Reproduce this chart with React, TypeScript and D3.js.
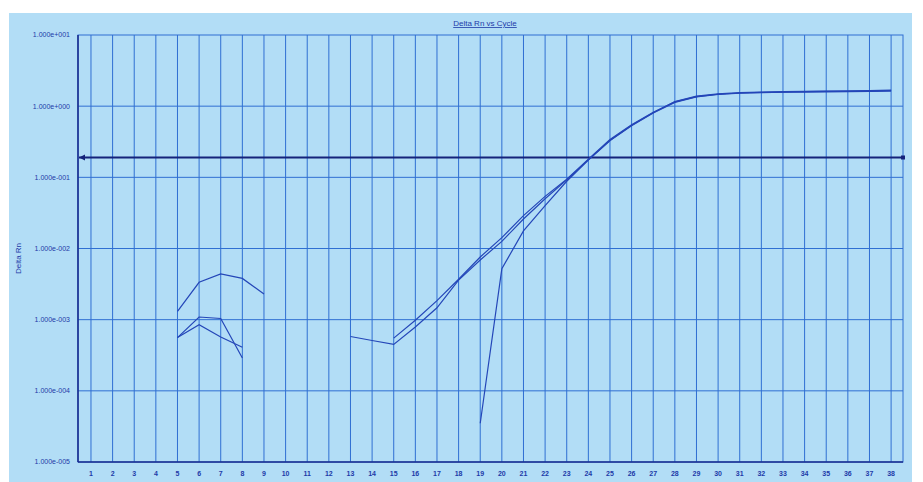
import React from 'react';
import * as d3 from 'd3';

// cycle numbers and the three wells' Delta Rn (null = not plotted, <= 0 on log scale)
const cycles = [1, 2, 3, 4, 5, 6, 7, 8, 9, 10, 11, 12, 13, 14, 15, 16, 17, 18, 19, 20,
  21, 22, 23, 24, 25, 26, 27, 28, 29, 30, 31, 32, 33, 34, 35, 36, 37, 38];

const wellA = [null, null, null, null, 1.31e-3, 3.35e-3, 4.4e-3, 3.8e-3, 2.3e-3, null,
  null, null, null, null, 5.5e-4, 9.8e-4, 1.85e-3, 3.7e-3, 7.6e-3, 0.0142,
  0.029, 0.054, 0.094, 0.18, 0.34, 0.55, 0.82, 1.15, 1.36, 1.47,
  1.53, 1.56, 1.58, 1.6, 1.61, 1.62, 1.63, 1.66];

const wellB = [null, null, null, null, 5.6e-4, 1.09e-3, 1.04e-3, 2.9e-4, null, null,
  null, null, 5.8e-4, 5.1e-4, 4.5e-4, 7.9e-4, 1.47e-3, 3.6e-3, 6.9e-3, 0.0126,
  0.026, 0.05, 0.092, 0.176, 0.33, 0.53, 0.8, 1.13, 1.35, 1.46,
  1.52, 1.55, 1.57, 1.58, 1.59, 1.6, 1.61, 1.62];

const wellC = [null, null, null, null, 5.6e-4, 8.5e-4, 5.7e-4, 4.1e-4, null, null,
  null, null, null, null, null, null, null, null, 3.5e-5, 5.2e-3,
  0.0177, 0.04, 0.088, 0.175, 0.33, 0.54, 0.81, 1.16, 1.38, 1.49,
  1.55, 1.58, 1.6, 1.62, 1.63, 1.64, 1.65, 1.68];

const yTicks = [10, 1, 0.1, 0.01, 0.001, 0.0001, 0.00001];
const yTickLabels = ['1.000e+001', '1.000e+000', '1.000e-001', '1.000e-002', '1.000e-003', '1.000e-004', '1.000e-005'];
const threshold = 0.19;

const W = 923;
const H = 482;
const left = 78, right = 903, top = 35, bottom = 462;

const App = () => {
  React.useEffect(() => {
    document.body.style.margin = '0';
  }, []);

  const x = d3.scaleLinear().domain([0.4, 38.55]).range([left, right]);
  const y = d3.scaleLog().domain([1e-5, 10]).range([bottom, top]);

  const line = d3.line<number | null>()
    .defined(d => d != null)
    .x((d, i) => x(cycles[i]))
    .y(d => y(d as number));

  const font = 'Arial, "Liberation Sans", sans-serif';
  const gridCol = '#2f6fd2';
  const axisCol = '#1a2d8f';
  const curveCol = '#2446b8';
  const textCol = '#1d3aa8';

  return (
    <svg width={W} height={H} style={{ display: 'block' }}>
      <rect x={0} y={0} width={W} height={H} fill="#ffffff" />
      <rect x={9} y={13} width={903} height={H - 13} fill="#b2ddf6" />

      <text x={485} y={26} textAnchor="middle" fontFamily={font} fontSize={8}
        fill={textCol} textDecoration="underline">Delta Rn vs Cycle</text>

      {/* vertical grid, one per cycle */}
      {cycles.map(c => (
        <line key={'v' + c} x1={x(c)} x2={x(c)} y1={top} y2={bottom} stroke={gridCol} strokeWidth={1} />
      ))}
      {/* horizontal grid per decade */}
      {yTicks.slice(1, -1).map(t => (
        <line key={'h' + t} x1={left} x2={right} y1={y(t)} y2={y(t)} stroke={gridCol} strokeWidth={1} />
      ))}

      <rect x={left} y={top} width={right - left} height={bottom - top} fill="none" stroke={gridCol} strokeWidth={1} />
      <line x1={left} x2={left} y1={top} y2={bottom} stroke={axisCol} strokeWidth={1.6} />
      <line x1={left} x2={right} y1={bottom} y2={bottom} stroke={axisCol} strokeWidth={1.6} />

      {yTicks.map((t, i) => (
        <text key={'yl' + t} x={70} y={y(t)} dy="0.35em" textAnchor="end" fontFamily={font}
          fontSize={7} fill={textCol}>{yTickLabels[i]}</text>
      ))}
      {cycles.map(c => (
        <text key={'xl' + c} x={x(c)} y={476} textAnchor="middle" fontFamily={font}
          fontSize={7} fontWeight="bold" fill={textCol}>{c}</text>
      ))}

      <text transform={`translate(21,${(top + bottom) / 2 + 10}) rotate(-90)`} textAnchor="middle"
        fontFamily={font} fontSize={8} fill={textCol}>Delta Rn</text>

      {/* threshold */}
      <line x1={left + 1} x2={right} y1={y(threshold)} y2={y(threshold)} stroke="#15237a" strokeWidth={1.8} />
      <path d={`M${left + 1},${y(threshold)} l6,-3 l0,6 z`} fill="#15237a" />
      <rect x={right - 2} y={y(threshold) - 2} width={4} height={4} fill="#15237a" />

      {[wellA, wellB, wellC].map((s, i) => (
        <path key={'s' + i} d={line(s) || ''} fill="none" stroke={curveCol} strokeWidth={1.2} />
      ))}
    </svg>
  );
};

export default App;
